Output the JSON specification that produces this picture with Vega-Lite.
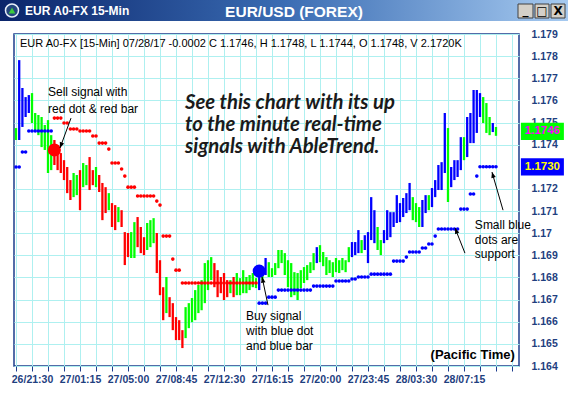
{
"$schema":"https://vega.github.io/schema/vega-lite/v6.json",
"background":"white",
"padding":0,
"spacing":0,
"bounds":"flush",
"config":{"view":{"stroke":null},"font":"Liberation Sans"},
"vconcat":[
{
"width":568,"height":34,
"view":{"stroke":null,"fill":"white"},
"encoding":{
 "x":{"field":"x","type":"quantitative","scale":{"domain":[0,568],"nice":false,"zero":false},"axis":null},
 "y":{"field":"y","type":"quantitative","scale":{"domain":[0,34],"nice":false,"zero":false,"reverse":true},"axis":null}
},
"layer":[
 {"data":{"values":[{"x":0,"x2":568,"y":0,"y2":21}]},
  "mark":{"type":"rect","color":{"gradient":"linear","stops":[{"offset":0,"color":"#0a246a"},{"offset":0.5,"color":"#3a6cb3"},{"offset":1,"color":"#a6caf0"}]}},
  "encoding":{"x2":{"field":"x2"},"y2":{"field":"y2"}}},
 {"data":{"values":[{"x":518,"x2":533,"y":4,"y2":18},{"x":535,"x2":549,"y":4,"y2":18},{"x":551,"x2":565,"y":4,"y2":18}]},
  "mark":{"type":"rect","fill":"#d4d0c8","stroke":"#404040","strokeWidth":1},
  "encoding":{"x2":{"field":"x2"},"y2":{"field":"y2"}}},
 {"data":{"values":[{"x":12,"y":10.5}]},
  "mark":{"type":"point","shape":"circle","filled":true,"size":170,"fill":"#24467e","stroke":"#e8eef8","strokeWidth":1.5,"opacity":1}},
 {"data":{"values":[{"x":12,"y":10.5}]},
  "mark":{"type":"point","shape":"triangle-up","filled":true,"size":45,"color":"#3ccc3c","opacity":1}},
 {"data":{"values":[{"x":294,"y":11.5,"t":"EUR/USD (FOREX)"}]},
  "mark":{"type":"text","font":"Liberation Sans","fontSize":15.5,"fontWeight":"bold","color":"white","align":"center","baseline":"middle"},
  "encoding":{"text":{"field":"t"}}},
 {"data":{"values":[{"x":25,"y":11,"t":"EUR A0-FX 15-Min"}]},
  "mark":{"type":"text","font":"Liberation Sans","fontSize":12,"fontWeight":"bold","color":"white","align":"left","baseline":"middle"},
  "encoding":{"text":{"field":"t"}}},
 {"data":{"values":[{"x":525.5,"y":10,"t":"_"},{"x":542,"y":11,"t":"□"},{"x":558,"y":11,"t":"X"}]},
  "mark":{"type":"text","font":"DejaVu Sans","fontSize":12,"fontWeight":"bold","color":"black","align":"center","baseline":"middle"},
  "encoding":{"text":{"field":"t"}}}
]
},
{
"bounds":"flush",
"spacing":0,
"hconcat":[
{
 "width":14,"height":332,
 "view":{"stroke":null,"fill":"white"},
 "data":{"values":[{"a":0}]},
 "mark":{"type":"point","opacity":0},
 "encoding":{}
},
{
"width":505,"height":332,
"view":{"stroke":"#1c3c8c","strokeWidth":1.5,"fill":"white"},
"encoding":{
 "x":{"field":"i","type":"quantitative","scale":{"domain":[-5.625,152.19],"nice":false,"zero":false},
  "axis":{"orient":"bottom","values":[-5,0,5,10,15,20,25,30,35,40,45,50,55,60,65,70,75,80,85,90,95,100,105,110,115,120,125,130,135,140,145,150],
   "labelExpr":"(datum.value >= 0 && datum.value <= 135 && datum.value % 15 == 0) ? ['26/21:30','27/01:15','27/05:00','27/08:45','27/12:30','27/16:15','27/20:00','27/23:45','28/03:30','28/07:15'][datum.value/15] : ''",
   "labelOverlap":false,"labelFont":"Liberation Sans","labelFontSize":10.5,"labelFontWeight":"bold","labelColor":"#1f3f7f","labelPadding":3,
   "tickColor":"#1c3c8c","tickSize":5,"tickWidth":1,"domain":false,"grid":true,"gridColor":"#aef0f0","gridWidth":1,"title":null}},
 "y":{"field":"p","type":"quantitative","scale":{"domain":[1.164,1.179],"nice":false,"zero":false},
  "axis":{"orient":"right","values":[1.164,1.165,1.166,1.167,1.168,1.169,1.17,1.171,1.172,1.174,1.175,1.176,1.177,1.178,1.179],
   "format":".4~g","labelFont":"Liberation Sans","labelFontSize":10.5,"labelFontWeight":"bold","labelColor":"#1f3f7f","labelPadding":12,
   "ticks":false,"domain":false,"grid":true,"gridColor":"#aef0f0","gridWidth":1,"title":null}}
},
"layer":[
 {"data":{"values":[
{"i":-5,"p":1.17475,"l":1.17421,"c":"G"},{"i":-4,"p":1.17782,"l":1.17421,"c":"B"},{"i":-3,"p":1.17656,"l":1.1748,"c":"B"},{"i":-2,"p":1.17615,"l":1.17525,"c":"B"},{"i":-1,"p":1.17624,"l":1.17543,"c":"B"},
{"i":0,"p":1.17633,"l":1.17498,"c":"G"},{"i":1,"p":1.17543,"l":1.17466,"c":"G"},{"i":2,"p":1.17534,"l":1.17443,"c":"G"},{"i":3,"p":1.17525,"l":1.17389,"c":"G"},{"i":4,"p":1.17489,"l":1.17376,"c":"G"},
{"i":5,"p":1.17511,"l":1.17272,"c":"G"},{"i":6,"p":1.17443,"l":1.17285,"c":"G"},{"i":7,"p":1.17421,"l":1.17308,"c":"R"},{"i":8,"p":1.17376,"l":1.17285,"c":"R"},{"i":9,"p":1.17362,"l":1.17272,"c":"R"},
{"i":10,"p":1.1733,"l":1.1724,"c":"R"},{"i":11,"p":1.17299,"l":1.17181,"c":"R"},{"i":12,"p":1.1724,"l":1.1715,"c":"R"},{"i":13,"p":1.17272,"l":1.17163,"c":"G"},{"i":14,"p":1.17263,"l":1.17172,"c":"G"},
{"i":15,"p":1.17285,"l":1.17104,"c":"R"},{"i":16,"p":1.17317,"l":1.17208,"c":"G"},{"i":17,"p":1.17308,"l":1.17217,"c":"G"},{"i":18,"p":1.17344,"l":1.17195,"c":"R"},{"i":19,"p":1.17285,"l":1.17217,"c":"R"},
{"i":20,"p":1.17299,"l":1.17208,"c":"G"},{"i":21,"p":1.17263,"l":1.17186,"c":"R"},{"i":22,"p":1.17227,"l":1.17059,"c":"R"},{"i":23,"p":1.17208,"l":1.17091,"c":"R"},{"i":24,"p":1.17181,"l":1.17104,"c":"G"},
{"i":25,"p":1.17136,"l":1.17028,"c":"R"},{"i":26,"p":1.17127,"l":1.17014,"c":"R"},{"i":27,"p":1.17118,"l":1.1705,"c":"G"},{"i":28,"p":1.17104,"l":1.17028,"c":"R"},{"i":29,"p":1.17005,"l":1.16856,"c":"R"},
{"i":30,"p":1.17001,"l":1.16892,"c":"R"},{"i":31,"p":1.17005,"l":1.16888,"c":"G"},{"i":32,"p":1.1705,"l":1.16888,"c":"G"},{"i":33,"p":1.17073,"l":1.16937,"c":"R"},{"i":34,"p":1.17028,"l":1.1691,"c":"R"},
{"i":35,"p":1.16982,"l":1.16901,"c":"R"},{"i":36,"p":1.17046,"l":1.16924,"c":"G"},{"i":37,"p":1.17059,"l":1.16937,"c":"G"},{"i":38,"p":1.17068,"l":1.16955,"c":"G"},{"i":39,"p":1.17001,"l":1.1682,"c":"R"},
{"i":40,"p":1.16878,"l":1.1672,"c":"R"},{"i":41,"p":1.16756,"l":1.16607,"c":"R"},{"i":42,"p":1.16802,"l":1.16639,"c":"G"},{"i":43,"p":1.16711,"l":1.16621,"c":"R"},{"i":44,"p":1.16684,"l":1.16562,"c":"R"},
{"i":45,"p":1.16621,"l":1.16517,"c":"R"},{"i":46,"p":1.16607,"l":1.16517,"c":"R"},{"i":47,"p":1.16562,"l":1.16481,"c":"R"},{"i":48,"p":1.16666,"l":1.16526,"c":"G"},{"i":49,"p":1.16684,"l":1.16571,"c":"G"},
{"i":50,"p":1.16707,"l":1.16598,"c":"G"},{"i":51,"p":1.16743,"l":1.16607,"c":"G"},{"i":52,"p":1.16766,"l":1.16639,"c":"G"},{"i":53,"p":1.16788,"l":1.16652,"c":"G"},{"i":54,"p":1.16865,"l":1.16684,"c":"G"},
{"i":55,"p":1.16878,"l":1.16743,"c":"G"},{"i":56,"p":1.16892,"l":1.16788,"c":"G"},{"i":57,"p":1.16865,"l":1.16756,"c":"R"},{"i":58,"p":1.16833,"l":1.16711,"c":"R"},{"i":59,"p":1.16802,"l":1.16729,"c":"R"},
{"i":60,"p":1.1682,"l":1.16698,"c":"R"},{"i":61,"p":1.16788,"l":1.16711,"c":"R"},{"i":62,"p":1.16788,"l":1.16729,"c":"G"},{"i":63,"p":1.16802,"l":1.16711,"c":"R"},{"i":64,"p":1.1682,"l":1.1672,"c":"G"},
{"i":65,"p":1.16797,"l":1.1672,"c":"G"},{"i":66,"p":1.16833,"l":1.16729,"c":"G"},{"i":67,"p":1.16802,"l":1.16729,"c":"G"},{"i":68,"p":1.16811,"l":1.16743,"c":"G"},{"i":69,"p":1.1682,"l":1.16756,"c":"G"},
{"i":70,"p":1.16797,"l":1.16752,"c":"G"},{"i":71,"p":1.16847,"l":1.16743,"c":"B"},{"i":72,"p":1.16842,"l":1.16788,"c":"G"},{"i":73,"p":1.16888,"l":1.16811,"c":"B"},{"i":74,"p":1.16869,"l":1.16802,"c":"G"},
{"i":75,"p":1.16842,"l":1.16802,"c":"G"},{"i":76,"p":1.16865,"l":1.16811,"c":"G"},{"i":77,"p":1.16924,"l":1.16842,"c":"G"},{"i":78,"p":1.16924,"l":1.16865,"c":"G"},{"i":79,"p":1.1691,"l":1.16811,"c":"G"},
{"i":80,"p":1.16878,"l":1.16756,"c":"G"},{"i":81,"p":1.16865,"l":1.16711,"c":"G"},{"i":82,"p":1.16824,"l":1.1672,"c":"G"},{"i":83,"p":1.1682,"l":1.16698,"c":"G"},{"i":84,"p":1.16833,"l":1.16752,"c":"G"},
{"i":85,"p":1.16847,"l":1.16775,"c":"G"},{"i":86,"p":1.16856,"l":1.16788,"c":"G"},{"i":87,"p":1.16869,"l":1.1682,"c":"G"},{"i":88,"p":1.1691,"l":1.16833,"c":"G"},{"i":89,"p":1.16937,"l":1.16865,"c":"B"},
{"i":90,"p":1.16946,"l":1.16869,"c":"G"},{"i":91,"p":1.16915,"l":1.16851,"c":"G"},{"i":92,"p":1.16892,"l":1.16811,"c":"G"},{"i":93,"p":1.16878,"l":1.1682,"c":"G"},{"i":94,"p":1.16869,"l":1.16802,"c":"G"},
{"i":95,"p":1.16888,"l":1.16824,"c":"G"},{"i":96,"p":1.16878,"l":1.1682,"c":"G"},{"i":97,"p":1.16888,"l":1.16833,"c":"G"},{"i":98,"p":1.16878,"l":1.16824,"c":"G"},{"i":99,"p":1.16937,"l":1.16869,"c":"G"},
{"i":100,"p":1.1696,"l":1.16892,"c":"B"},{"i":101,"p":1.1696,"l":1.16901,"c":"B"},{"i":102,"p":1.17014,"l":1.1691,"c":"B"},{"i":103,"p":1.16969,"l":1.1691,"c":"G"},{"i":104,"p":1.16991,"l":1.16924,"c":"B"},
{"i":105,"p":1.17005,"l":1.16865,"c":"B"},{"i":106,"p":1.17163,"l":1.16969,"c":"B"},{"i":107,"p":1.17104,"l":1.16955,"c":"B"},{"i":108,"p":1.17028,"l":1.16924,"c":"G"},{"i":109,"p":1.16969,"l":1.16901,"c":"G"},
{"i":110,"p":1.17014,"l":1.16955,"c":"B"},{"i":111,"p":1.17104,"l":1.16969,"c":"B"},{"i":112,"p":1.17095,"l":1.16982,"c":"B"},{"i":113,"p":1.17095,"l":1.17028,"c":"B"},{"i":114,"p":1.17172,"l":1.17046,"c":"B"},
{"i":115,"p":1.17136,"l":1.1705,"c":"B"},{"i":116,"p":1.17159,"l":1.17073,"c":"B"},{"i":117,"p":1.17181,"l":1.17091,"c":"B"},{"i":118,"p":1.17227,"l":1.17104,"c":"B"},{"i":119,"p":1.17163,"l":1.17059,"c":"G"},
{"i":120,"p":1.17136,"l":1.1705,"c":"G"},{"i":121,"p":1.17118,"l":1.17028,"c":"G"},{"i":122,"p":1.1715,"l":1.17028,"c":"B"},{"i":123,"p":1.17172,"l":1.17091,"c":"B"},{"i":124,"p":1.17172,"l":1.17104,"c":"G"},
{"i":125,"p":1.17204,"l":1.17118,"c":"B"},{"i":126,"p":1.1724,"l":1.17163,"c":"B"},{"i":127,"p":1.17308,"l":1.17195,"c":"B"},{"i":128,"p":1.17321,"l":1.17195,"c":"B"},{"i":129,"p":1.17543,"l":1.17272,"c":"B"},
{"i":130,"p":1.17475,"l":1.17141,"c":"G"},{"i":131,"p":1.17299,"l":1.17208,"c":"B"},{"i":132,"p":1.1733,"l":1.1724,"c":"B"},{"i":133,"p":1.1733,"l":1.17254,"c":"B"},{"i":134,"p":1.17434,"l":1.17285,"c":"B"},
{"i":135,"p":1.17434,"l":1.1733,"c":"G"},{"i":136,"p":1.17525,"l":1.17344,"c":"B"},{"i":137,"p":1.17543,"l":1.17407,"c":"B"},{"i":138,"p":1.17647,"l":1.17407,"c":"B"},{"i":139,"p":1.17647,"l":1.17453,"c":"B"},
{"i":140,"p":1.17633,"l":1.17525,"c":"B"},{"i":141,"p":1.17615,"l":1.17498,"c":"G"},{"i":142,"p":1.17588,"l":1.17453,"c":"G"},{"i":143,"p":1.17525,"l":1.17443,"c":"G"},{"i":144,"p":1.17498,"l":1.17457,"c":"B"},
{"i":145,"p":1.1748,"l":1.1744,"c":"G"}
 ]},
 "mark":{"type":"rule","strokeWidth":2.3},
 "encoding":{"y2":{"field":"l"},"color":{"field":"c","type":"nominal","scale":{"domain":["G","R","B"],"range":["#00ff00","#ff0000","#0000ff"]},"legend":null}}},
 {"data":{"values":[
{"i":-5,"p":1.17299,"c":"B"},{"i":-4,"p":1.17299,"c":"B"},{"i":-3,"p":1.17367,"c":"B"},{"i":-2,"p":1.17367,"c":"B"},{"i":-1,"p":1.17462,"c":"B"},{"i":0,"p":1.17462,"c":"B"},{"i":1,"p":1.17462,"c":"B"},{"i":2,"p":1.17462,"c":"B"},{"i":3,"p":1.17462,"c":"B"},{"i":4,"p":1.17462,"c":"B"},{"i":5,"p":1.17462,"c":"B"},{"i":6,"p":1.17462,"c":"B"},
{"i":7,"p":1.1752,"c":"R"},{"i":8,"p":1.1752,"c":"R"},{"i":9,"p":1.1752,"c":"R"},{"i":10,"p":1.17498,"c":"R"},{"i":11,"p":1.17498,"c":"R"},{"i":12,"p":1.17471,"c":"R"},{"i":13,"p":1.17471,"c":"R"},{"i":14,"p":1.17471,"c":"R"},
{"i":15,"p":1.17462,"c":"R"},{"i":16,"p":1.17462,"c":"R"},{"i":17,"p":1.17462,"c":"R"},{"i":18,"p":1.17462,"c":"R"},{"i":19,"p":1.17439,"c":"R"},{"i":20,"p":1.17439,"c":"R"},{"i":21,"p":1.17407,"c":"R"},{"i":22,"p":1.17407,"c":"R"},{"i":23,"p":1.17407,"c":"R"},{"i":24,"p":1.1738,"c":"R"},
{"i":25,"p":1.17317,"c":"R"},{"i":26,"p":1.17317,"c":"R"},{"i":27,"p":1.17317,"c":"R"},{"i":28,"p":1.1729,"c":"R"},{"i":29,"p":1.17258,"c":"R"},{"i":30,"p":1.17208,"c":"R"},{"i":31,"p":1.17208,"c":"R"},{"i":32,"p":1.17208,"c":"R"},
{"i":33,"p":1.17168,"c":"R"},{"i":34,"p":1.17168,"c":"R"},{"i":35,"p":1.17168,"c":"R"},{"i":36,"p":1.17168,"c":"R"},{"i":37,"p":1.17168,"c":"R"},{"i":38,"p":1.17168,"c":"R"},{"i":39,"p":1.17145,"c":"R"},{"i":40,"p":1.17127,"c":"R"},
{"i":41,"p":1.16987,"c":"R"},{"i":42,"p":1.16987,"c":"R"},{"i":43,"p":1.16987,"c":"R"},{"i":44,"p":1.16883,"c":"R"},{"i":45,"p":1.16833,"c":"R"},{"i":46,"p":1.16833,"c":"R"},
{"i":47,"p":1.16775,"c":"R"},{"i":48,"p":1.16775,"c":"R"},{"i":49,"p":1.16775,"c":"R"},{"i":50,"p":1.16775,"c":"R"},{"i":51,"p":1.16775,"c":"R"},{"i":52,"p":1.16775,"c":"R"},{"i":53,"p":1.16775,"c":"R"},{"i":54,"p":1.16775,"c":"R"},
{"i":55,"p":1.16775,"c":"R"},{"i":56,"p":1.16775,"c":"R"},{"i":57,"p":1.16775,"c":"R"},{"i":58,"p":1.16775,"c":"R"},{"i":59,"p":1.16775,"c":"R"},{"i":60,"p":1.16775,"c":"R"},{"i":61,"p":1.16775,"c":"R"},{"i":62,"p":1.16775,"c":"R"},
{"i":63,"p":1.16775,"c":"R"},{"i":64,"p":1.16775,"c":"R"},{"i":65,"p":1.16775,"c":"R"},{"i":66,"p":1.16775,"c":"R"},{"i":67,"p":1.16775,"c":"R"},{"i":68,"p":1.16775,"c":"R"},{"i":69,"p":1.16775,"c":"R"},{"i":70,"p":1.16775,"c":"R"},
{"i":71,"p":1.16684,"c":"B"},{"i":72,"p":1.16684,"c":"B"},{"i":73,"p":1.16684,"c":"B"},{"i":74,"p":1.16711,"c":"B"},{"i":75,"p":1.16711,"c":"B"},{"i":76,"p":1.16711,"c":"B"},
{"i":77,"p":1.16743,"c":"B"},{"i":78,"p":1.16743,"c":"B"},{"i":79,"p":1.16743,"c":"B"},{"i":80,"p":1.16743,"c":"B"},{"i":81,"p":1.16743,"c":"B"},{"i":82,"p":1.16743,"c":"B"},{"i":83,"p":1.16743,"c":"B"},{"i":84,"p":1.16743,"c":"B"},{"i":85,"p":1.16743,"c":"B"},{"i":86,"p":1.16743,"c":"B"},{"i":87,"p":1.16743,"c":"B"},
{"i":88,"p":1.16761,"c":"B"},{"i":89,"p":1.16761,"c":"B"},{"i":90,"p":1.16761,"c":"B"},{"i":91,"p":1.16761,"c":"B"},{"i":92,"p":1.16761,"c":"B"},{"i":93,"p":1.16761,"c":"B"},{"i":94,"p":1.16761,"c":"B"},
{"i":95,"p":1.16784,"c":"B"},{"i":96,"p":1.16784,"c":"B"},{"i":97,"p":1.16784,"c":"B"},{"i":98,"p":1.16784,"c":"B"},{"i":99,"p":1.16784,"c":"B"},{"i":100,"p":1.16793,"c":"B"},{"i":101,"p":1.16793,"c":"B"},
{"i":102,"p":1.16802,"c":"B"},{"i":103,"p":1.16802,"c":"B"},{"i":104,"p":1.16802,"c":"B"},{"i":105,"p":1.16802,"c":"B"},
{"i":106,"p":1.16815,"c":"B"},{"i":107,"p":1.16815,"c":"B"},{"i":108,"p":1.16815,"c":"B"},{"i":109,"p":1.16815,"c":"B"},{"i":110,"p":1.16815,"c":"B"},{"i":111,"p":1.16815,"c":"B"},{"i":112,"p":1.16815,"c":"B"},
{"i":113,"p":1.16874,"c":"B"},{"i":114,"p":1.16874,"c":"B"},{"i":115,"p":1.16874,"c":"B"},{"i":116,"p":1.16874,"c":"B"},{"i":117,"p":1.16892,"c":"B"},
{"i":118,"p":1.16915,"c":"B"},{"i":119,"p":1.16915,"c":"B"},{"i":120,"p":1.16915,"c":"B"},{"i":121,"p":1.16915,"c":"B"},{"i":122,"p":1.16933,"c":"B"},{"i":123,"p":1.16933,"c":"B"},{"i":124,"p":1.16951,"c":"B"},{"i":125,"p":1.16951,"c":"B"},{"i":126,"p":1.16987,"c":"B"},
{"i":127,"p":1.17019,"c":"B"},{"i":128,"p":1.17019,"c":"B"},{"i":129,"p":1.17019,"c":"B"},{"i":130,"p":1.17019,"c":"B"},{"i":131,"p":1.17019,"c":"B"},{"i":132,"p":1.17019,"c":"B"},{"i":133,"p":1.17019,"c":"B"},
{"i":134,"p":1.17109,"c":"B"},{"i":135,"p":1.17109,"c":"B"},{"i":136,"p":1.17109,"c":"B"},{"i":137,"p":1.17177,"c":"B"},{"i":138,"p":1.17177,"c":"B"},{"i":139,"p":1.17258,"c":"B"},
{"i":140,"p":1.173,"c":"B"},{"i":141,"p":1.173,"c":"B"},{"i":142,"p":1.173,"c":"B"},{"i":143,"p":1.173,"c":"B"},{"i":144,"p":1.173,"c":"B"},{"i":145,"p":1.173,"c":"B"}
 ]},
 "mark":{"type":"point","filled":true,"size":13,"opacity":1},
 "encoding":{"color":{"field":"c","type":"nominal","scale":{"domain":["G","R","B"],"range":["#00ff00","#ff0000","#0000ff"]},"legend":null}}},
 {"data":{"values":[{"i":7,"p":1.17376,"c":"R"},{"i":71,"p":1.16829,"c":"B"}]},
  "mark":{"type":"point","filled":true,"size":170,"opacity":1},
  "encoding":{"color":{"field":"c","type":"nominal","scale":{"domain":["G","R","B"],"range":["#00ff00","#ff0000","#0000ff"]},"legend":null}}},
 {"data":{"values":[{"i":12.19,"p":1.1752,"i1":8.75,"p1":1.17385},{"i":73.75,"p":1.16675,"i1":71.9,"p1":1.16802},{"i":135.3,"p":1.1691,"i1":132.2,"p1":1.17023},{"i":147.2,"p":1.17104,"i1":143.75,"p1":1.17276}]},
  "mark":{"type":"rule","color":"black","strokeWidth":1},
  "encoding":{"x2":{"field":"i1"},"y2":{"field":"p1"}}},
 {"data":{"values":[{"i":8.75,"p":1.17385,"a":200},{"i":71.9,"p":1.16802,"a":348},{"i":132.2,"p":1.17023,"a":338},{"i":143.75,"p":1.17276,"a":344}]},
  "mark":{"type":"point","shape":"M0,0L0.4,1L-0.4,1Z","filled":true,"size":130,"color":"black","opacity":1},
  "encoding":{"angle":{"field":"a","type":"quantitative","scale":null}}},
 {"data":{"values":[{"i":-3.75,"p":1.17855,"t":"EUR A0-FX [15-Min] 07/28/17  -0.0002 C 1.1746, H 1.1748, L 1.1744, O 1.1748, V 2.1720K"}]},
  "mark":{"type":"text","font":"Liberation Sans","fontSize":11,"color":"black","align":"left","baseline":"middle"},
  "encoding":{"text":{"field":"t"}}},
 {"data":{"values":[
   {"i":5,"p":1.17638,"t":"Sell signal with"},{"i":5,"p":1.17561,"t":"red dot & red bar"},
   {"i":66.9,"p":1.16625,"t":"Buy signal"},{"i":66.9,"p":1.16558,"t":"with blue dot"},{"i":66.9,"p":1.1649,"t":"and blue bar"},
   {"i":138.4,"p":1.17037,"t":"Small blue"},{"i":138.4,"p":1.16969,"t":"dots are"},{"i":138.4,"p":1.16906,"t":"support"}]},
  "mark":{"type":"text","font":"Liberation Sans","fontSize":12,"color":"black","align":"left","baseline":"middle"},
  "encoding":{"text":{"field":"t"}}},
 {"data":{"values":[{"i":47.8,"p":1.17588,"t":"See this chart with its up"},{"i":47.8,"p":1.17489,"t":"to the minute real-time"},{"i":47.8,"p":1.17389,"t":"signals with AbleTrend."}]},
  "mark":{"type":"text","font":"Lato","fontSize":20.3,"fontWeight":"bold","fontStyle":"italic","color":"#1a1a1a","align":"left","baseline":"middle"},
  "encoding":{"text":{"field":"t"}}},
 {"data":{"values":[{"i":150.9,"p":1.16449,"t":"(Pacific Time)"}]},
  "mark":{"type":"text","font":"Liberation Sans","fontSize":13,"fontWeight":"bold","color":"black","align":"right","baseline":"middle"},
  "encoding":{"text":{"field":"t"}}},
 {"data":{"values":[{"i":159.5,"p":1.1746,"c":"#00ff00"},{"i":159.5,"p":1.173,"c":"#0000ff"}]},
  "mark":{"type":"point","shape":"M-1,-0.4H1V0.4H-1Z","filled":true,"size":1849,"opacity":1},
  "encoding":{"color":{"field":"c","type":"nominal","scale":null}}},
 {"data":{"values":[{"i":159.5,"p":1.1746,"t":"1.1746","c":"#ff00ff"},{"i":159.5,"p":1.173,"t":"1.1730","c":"#ffff00"}]},
  "mark":{"type":"text","font":"Liberation Sans","fontSize":11.5,"fontWeight":"bold","align":"center","baseline":"middle"},
  "encoding":{"text":{"field":"t"},"color":{"field":"c","type":"nominal","scale":null}}}
]
}
]
}
]
}
